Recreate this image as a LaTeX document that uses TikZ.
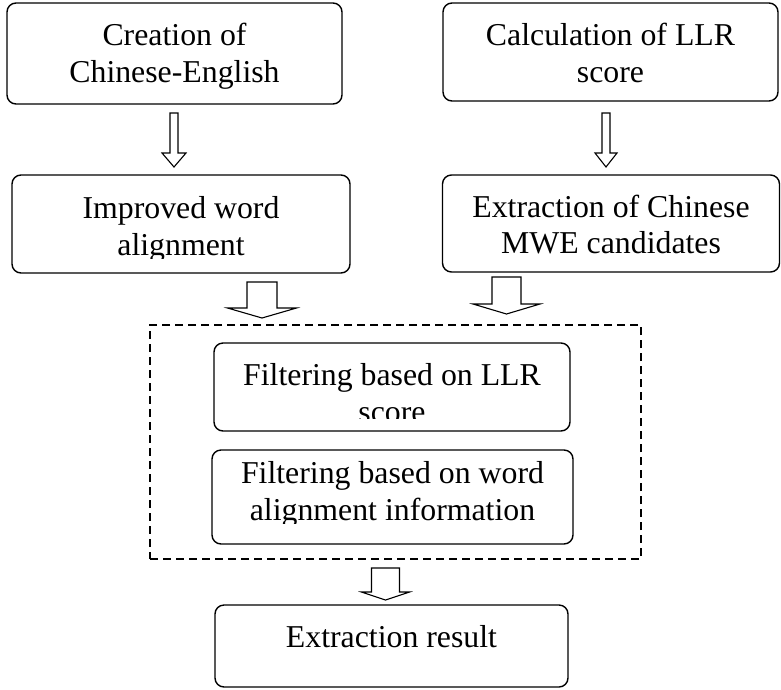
\documentclass[tikz,border=0pt]{standalone}
\usepackage{fontspec}
\setmainfont{Liberation Serif}
\begin{document}
\begin{tikzpicture}[x=1pt,y=-1pt,
  box/.style={draw=black, line width=1.4pt, rounded corners=9pt, inner sep=0pt, fill=none},
  txt/.style={anchor=base, inner sep=0pt, font=\fontsize{31.8}{37}\selectfont},
  blk/.style={draw=black, line width=1.1pt, fill=white, line join=miter},
  dbox/.style={draw=black, line width=1.2pt, dash pattern=on 8pt off 5pt}
]
\useasboundingbox (0,0) rectangle (781,689);
\newcommand{\blockarr}[6]{%
  \draw[blk] (#1-#2,#4) -- (#1+#2,#4) -- (#1+#2,#5) -- (#1+#3,#5) -- (#1,#6)
    -- (#1-#3,#5) -- (#1-#2,#5) -- cycle;}

% boxes
\node[box, minimum width=335pt, minimum height=101pt] (b1) at (174.5,53.5) {};
\node[box, minimum width=335pt, minimum height=98pt] (b2) at (610.5,52) {};
\node[box, minimum width=338pt, minimum height=98pt] (b3) at (181,224) {};
\node[box, minimum width=337pt, minimum height=97pt] (b4) at (611,223.5) {};
\node[dbox, minimum width=491pt, minimum height=234pt, inner sep=0pt] (dz) at (395.5,442) {};
\node[box, minimum width=356pt, minimum height=88pt] (b5) at (392,387) {};
\node[box, minimum width=361pt, minimum height=94pt] (b6) at (392.5,497) {};
\node[box, minimum width=353pt, minimum height=82pt] (b7) at (391.5,646) {};

% texts
\node[txt] (t1a) at (b1.center |- 0,45) {Creation of};
\node[txt] (t1b) at (b1.center |- 0,82) {Chinese-English};
\node[txt] (t2a) at (b2.center |- 0,45) {Calculation of LLR};
\node[txt] (t2b) at (b2.center |- 0,82) {score};
\begin{scope}
  \clip (0,170) rectangle (781,258);
  \node[txt] (t3a) at (b3.center |- 0,218) {Improved word};
  \node[txt] (t3b) at (b3.center |- 0,255) {alignment};
\end{scope}
\node[txt] (t4a) at (b4.center |- 0,217) {Extraction of Chinese};
\node[txt] (t4b) at (b4.center |- 0,253) {MWE candidates};
\begin{scope}
  \clip (0,340) rectangle (781,418);
  \node[txt] (t5a) at (b5.center |- 0,385) {Filtering based on LLR};
  \node[txt] (t5b) at (b5.center |- 0,422) {score};
\end{scope}
\begin{scope}
  \clip (0,446) rectangle (781,523);
  \node[txt] (t6a) at (b6.center |- 0,483) {Filtering based on word};
  \node[txt] (t6b) at (b6.center |- 0,520) {alignment information};
\end{scope}
\node[txt] (t7) at (b7.center |- 0,647) {Extraction result};

% block arrows
\blockarr{174}{4}{12}{113}{153}{167}
\blockarr{606}{4}{11}{113}{153}{167}
\blockarr{262}{15}{34.5}{282}{308}{318}
\blockarr{506.5}{14.5}{33.5}{277}{304}{314}
\blockarr{385.5}{14}{24}{568}{592}{600}
\end{tikzpicture}
\end{document}
